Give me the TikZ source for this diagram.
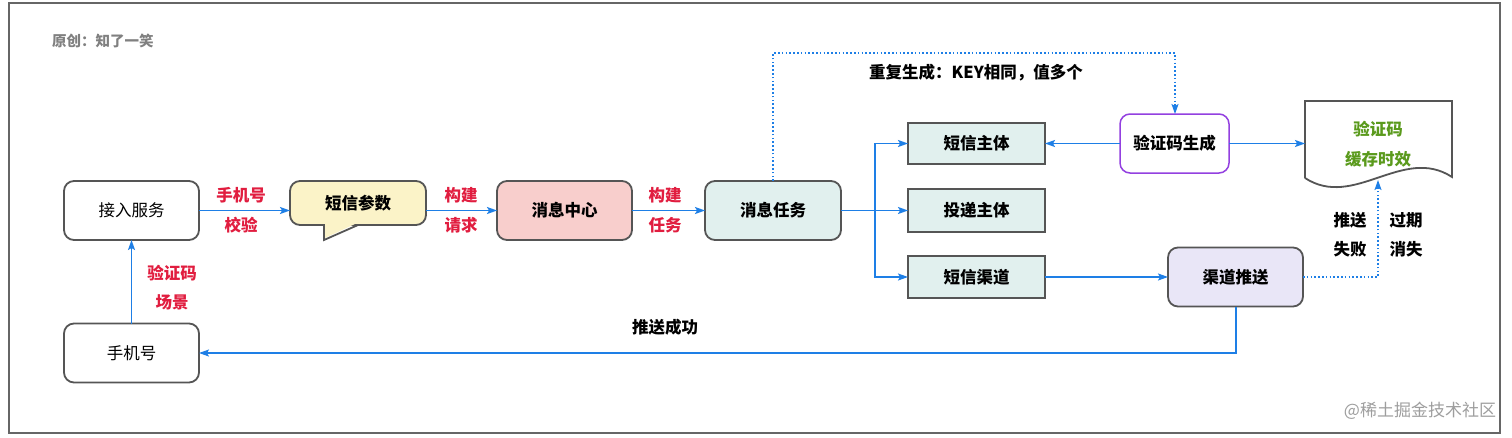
\documentclass[tikz,border=0pt]{standalone}
\usepackage{fontspec}
\setmainfont{Noto Sans CJK SC}
\usetikzlibrary{arrows.meta,positioning,calc}
\definecolor{arrowblue}{HTML}{1E7FE6}
\definecolor{nodeborder}{HTML}{555555}
\definecolor{lblred}{HTML}{E11D3F}
\definecolor{fillpink}{HTML}{F8CECC}
\definecolor{fillteal}{HTML}{E1F0EE}
\definecolor{filllav}{HTML}{E9E6F7}
\definecolor{fillyel}{HTML}{FBF3C8}
\definecolor{purpleb}{HTML}{9340E0}
\definecolor{docgreen}{HTML}{5A9A1C}
\definecolor{framegray}{HTML}{666666}
\begin{document}
\begin{tikzpicture}[x=1pt,y=-1pt,
  every node/.style={inner sep=0pt,outer sep=0pt},
  rbox/.style={draw=nodeborder,line width=1.8pt,rounded corners=10pt,
    minimum width=135pt,minimum height=59pt,font=\fontsize{16.5}{20}\selectfont},
  sbox/.style={draw=nodeborder,line width=1.3pt,fill=fillteal,
    minimum width=137pt,minimum height=42pt,font=\fontsize{16.5}{20}\selectfont\bfseries},
  conn/.style={draw=arrowblue,line width=1.3pt,-{Stealth[length=10pt,width=7pt,inset=2pt]}},
  dotconn/.style={draw=arrowblue,line width=1.4pt,dash pattern=on 1.6pt off 2.2pt,-{Stealth[length=10pt,width=7pt,inset=2pt]}},
  redlbl/.style={text=lblred,font=\fontsize{16.5}{20}\selectfont\bfseries},
  blklbl/.style={text=black,font=\fontsize{16.5}{20}\selectfont\bfseries}
]
\useasboundingbox (0,0) rectangle (1512,437);
\fill[white] (0,0) rectangle (1512,437);
\draw[framegray,line width=2pt] (9,3) rectangle (1500,433);

\node[text=gray,font=\fontsize{14.5}{18}\selectfont\bfseries,anchor=west] (title) at (52,41) {原创：知了一笑};

% nodes
\node[rbox,fill=white] (jieru) at (131.5,210.5) {接入服务};
\node[rbox,fill=white] (phone) at (131.5,353) {手机号};
% callout
\node[rbox,fill=fillyel,minimum width=136pt,minimum height=44pt,font=\fontsize{16.5}{20}\selectfont\bfseries] (params) at (358,203) {短信参数};
\fill[fillyel] (325,223) -- (357,223) -- (325,238) -- cycle;
\draw[nodeborder,line width=1.8pt,line join=miter] (358,225) -- (324,240) -- (324,225);
\node[rbox,fill=fillpink,font=\fontsize{16.5}{20}\selectfont\bfseries] (center) at (564.5,210.5) {消息中心};
\node[rbox,fill=fillteal,minimum width=136pt,font=\fontsize{16.5}{20}\selectfont\bfseries] (task) at (773,210.5) {消息任务};
\node[sbox,minimum height=41pt] (subj) at (976.5,143.5) {短信主体};
\node[sbox,minimum height=43pt] (deliv) at (976.5,210.5) {投递主体};
\node[sbox] (chan) at (976.5,277) {短信渠道};
\node[rbox,draw=purpleb,line width=1.5pt,fill=white,minimum width=109pt,font=\fontsize{16.5}{20}\selectfont\bfseries] (gen) at (1174.5,143.5) {验证码生成};
\node[rbox,fill=filllav,font=\fontsize{16.5}{20}\selectfont\bfseries] (push) at (1235.5,277) {渠道推送};
% document shape
\node[minimum width=147pt,minimum height=80pt] (doc) at (1378.5,140.5) {};
\draw[nodeborder,line width=1.8pt,fill=white] (1305,178) -- (1305,101) -- (1452,101) -- (1452,177)
  .. controls (1403,145) and (1354,210) .. (1305,178);
\node[text=docgreen,font=\fontsize{16.5}{20}\selectfont\bfseries] (doc1) at (1378,129) {验证码};
\node[text=docgreen,font=\fontsize{16.5}{20}\selectfont\bfseries] (doc2) at (1378,159) {缓存时效};
\coordinate (docbot) at (1378,180);

% connectors
\draw[conn] (jieru.east) -- (jieru.east -| params.west);
\draw[conn] (params.east |- center.west) -- (center.west);
\draw[conn] (center.east) -- (task.west);
\coordinate (br) at (875,210.5);
\draw[conn] (task.east) -- (deliv.west);
\draw[conn] (br) |- (subj.west);
\draw[conn] (br) |- (chan.west);
\draw[conn] (gen.west) -- (subj.east);
\draw[conn] (gen.east) -- (gen.east -| doc.west);
\draw[conn] (chan.east) -- (push.west);
\draw[conn] (phone.north) -- (jieru.south);
\coordinate (pb) at (1236,353);
\draw[conn] (push.south -| pb) -- (pb) -- (phone.east);
\coordinate (d1a) at (773,53);
\coordinate (d1b) at (1175,53);
\draw[dotconn] (task.north) -- (d1a) -- (d1b) -- (gen.north -| d1b);
\coordinate (d2a) at (1378,277);
\draw[dotconn] (push.east) -- (d2a) -- (docbot);

% labels
\node[redlbl] (l1a) at (241,195) {手机号};
\node[redlbl] (l1b) at (241,225) {校验};
\node[redlbl] (l2a) at (461,195) {构建};
\node[redlbl] (l2b) at (461,225) {请求};
\node[redlbl] (l3a) at (665,195) {构建};
\node[redlbl] (l3b) at (665,225) {任务};
\node[redlbl] (l4a) at (172,273) {验证码};
\node[redlbl] (l4b) at (172,302) {场景};
\node[blklbl] (l5) at (976,73) {重复生成：KEY相同，值多个};
\node[blklbl] (l6a) at (1350,220) {推送};
\node[blklbl] (l6b) at (1350,249) {失败};
\node[blklbl] (l7a) at (1406,220) {过期};
\node[blklbl] (l7b) at (1406,249) {消失};
\node[blklbl] (l8) at (665,327) {推送成功};
\node[text=black!38,font=\fontsize{17}{20}\selectfont,anchor=east] (wm) at (1496,411) {@稀土掘金技术社区};
\end{tikzpicture}
\end{document}
